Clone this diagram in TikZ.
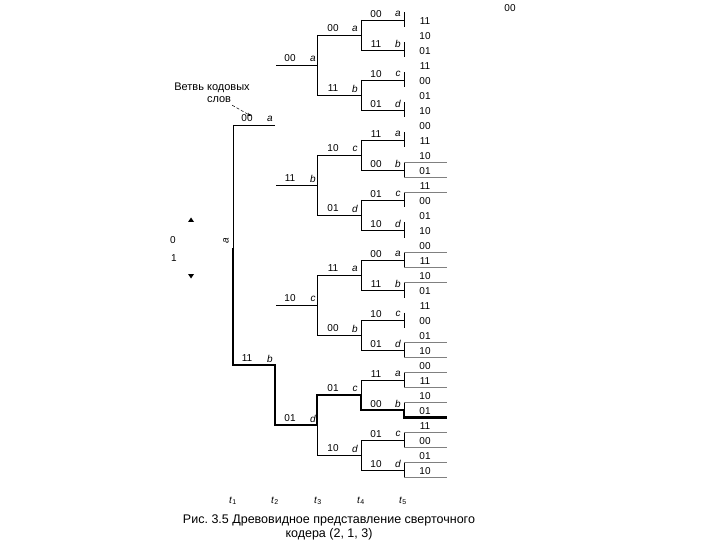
\documentclass[tikz,border=0pt]{standalone}
\usepackage{fontspec}
\setmainfont{Liberation Sans}
\usetikzlibrary{arrows.meta}
\frenchspacing
\begin{document}
\begin{tikzpicture}[x=1pt,y=-1pt,
  thinline/.style={line width=0.8pt, black},
  leafline/.style={line width=0.7pt, black!50},
  boldpath/.style={line width=2.4pt, black, line join=miter, line cap=butt},
  code/.style={font=\fontsize{10}{12}\selectfont, inner sep=0pt},
  st/.style={font=\fontsize{10}{12}\selectfont\itshape, inner sep=0pt},
  tlab/.style={font=\fontsize{10}{12}\selectfont, inner sep=0pt},
  annot/.style={font=\fontsize{11}{13}\selectfont, inner sep=0pt},
]
\useasboundingbox (0,0) rectangle (720,540);

% ---- root and level 1
\coordinate (r0) at (233,125);
\coordinate (rm) at (233,248);
\coordinate (r1) at (233,365);
\coordinate (l1a) at (275,125);
\coordinate (l1b) at (275,365);
\draw[thinline] (r0) -- (rm);
\draw[thinline] (r0) -- (l1a);
\node[code] (c1a) at (247,118.5) {00};
\node[st] (s1a) at (270,118.5) {a};
\node[code] (c1b) at (247,358.5) {11};
\node[st] (s1b) at (270,358.5) {b};
\node[st, rotate=90] (sroot) at (226,241) {a};

% ---- level 2
\foreach \y/\c/\s [count=\i] in {65/00/a,185/11/b,305/10/c,425/01/d}{
  \coordinate (l2s\i) at (276,\y);
  \coordinate (l2e\i) at (317,\y);
  \coordinate (l2t\i) at (317,\y-30);
  \coordinate (l2b\i) at (317,\y+30);
  \draw[thinline] (l2s\i) -- (l2e\i);
  \draw[thinline] (l2t\i) -- (l2b\i);
  \node[code] (c2\i) at (290,\y-6.5) {\c};
  \node[st] (s2\i) at (313,\y-6.5) {\s};
}

% ---- level 3
\foreach \y/\c/\s [count=\i] in {35/00/a,95/11/b,155/10/c,215/01/d,275/11/a,335/00/b,395/01/c,455/10/d}{
  \coordinate (l3s\i) at (317,\y);
  \coordinate (l3e\i) at (361,\y);
  \coordinate (l3t\i) at (361,\y-15);
  \coordinate (l3b\i) at (361,\y+15);
  \draw[thinline] (l3s\i) -- (l3e\i);
  \draw[thinline] (l3t\i) -- (l3b\i);
  \node[code] (c3\i) at (333,\y-6.5) {\c};
  \node[st] (s3\i) at (355,\y-6.5) {\s};
}

% ---- level 4
\foreach \y/\c/\s [count=\i] in {20/00/a,50/11/b,80/10/c,110/01/d,140/11/a,170/00/b,200/01/c,230/10/d,260/00/a,290/11/b,320/10/c,350/01/d,380/11/a,410/00/b,440/01/c,470/10/d}{
  \coordinate (l4s\i) at (361,\y);
  \coordinate (l4e\i) at (404,\y);
  \coordinate (l4t\i) at (404,\y-7.5);
  \coordinate (l4b\i) at (404,\y+7.5);
  \draw[thinline] (l4s\i) -- (l4e\i);
  \draw[thinline] (l4t\i) -- (l4b\i);
  \node[code] (c4\i) at (376,\y-6) {\c};
  \node[st] (s4\i) at (398,\y-6) {\s};
}

% ---- level 5 branches that are drawn
\foreach \y [count=\i] in {162.5,177.5,192.5,252.5,267.5,282.5,342.5,357.5,372.5,387.5,402.5,417.5,432.5,447.5,462.5,477.5}{
  \coordinate (l5s\i) at (404,\y);
  \coordinate (l5e\i) at (447,\y);
  \draw[leafline] (l5s\i) -- (l5e\i);
}

% ---- level 5 code words
\node[code] (c50) at (510,8) {00};
\foreach \c [count=\k] in {11,10,01,11,00,01,10,
  00,11,10,01,11,00,01,10,
  00,11,10,01,11,00,01,10,
  00,11,10,01,11,00,01,10}{
  \node[code] (c5\k) at (425,{6.5+15*\k}) {\c};
}

% ---- bold path
\coordinate (p1) at (275,425);
\coordinate (p2) at (361,410);
\coordinate (p3) at (404,417.5);
\draw[boldpath] (rm) -- (r1) -- (l1b) -- (p1) -- (l2e4) -- (l3s7) -- (l3e7) -- (p2) -- (l4e14) -- (p3) -- (l5e12);

% ---- left-hand legend
\node[tlab] (n0) at (173,240) {0};
\node[tlab] (n1) at (174,258) {1};
\fill (191,217.5) -- (188,222) -- (194,222) -- cycle;
\fill (191,278.5) -- (188,274) -- (194,274) -- cycle;

% ---- annotation
\node[annot] (ann1) at (212,88) {Ветвь кодовых};
\node[annot] (ann2) at (219,100) {слов};
\coordinate (arrtip) at (251,116);
\draw[densely dashed, line width=0.5pt, -{Stealth[length=4pt,width=3pt]}] (ann2.south east) ++(1,2) -- (arrtip);

% ---- time labels
\foreach \x [count=\i] in {233,275,318,361,403}{
  \node[tlab] (t\i) at (\x,501) {\textit{t}\textsubscript{\i}};
}

% ---- caption
\node[font=\fontsize{12.5}{14}\selectfont, align=center, inner sep=0pt] (cap) at (329,527)
  {Рис. 3.5 Древовидное представление сверточного\\кодера (2, 1, 3)};
\end{tikzpicture}
\end{document}
